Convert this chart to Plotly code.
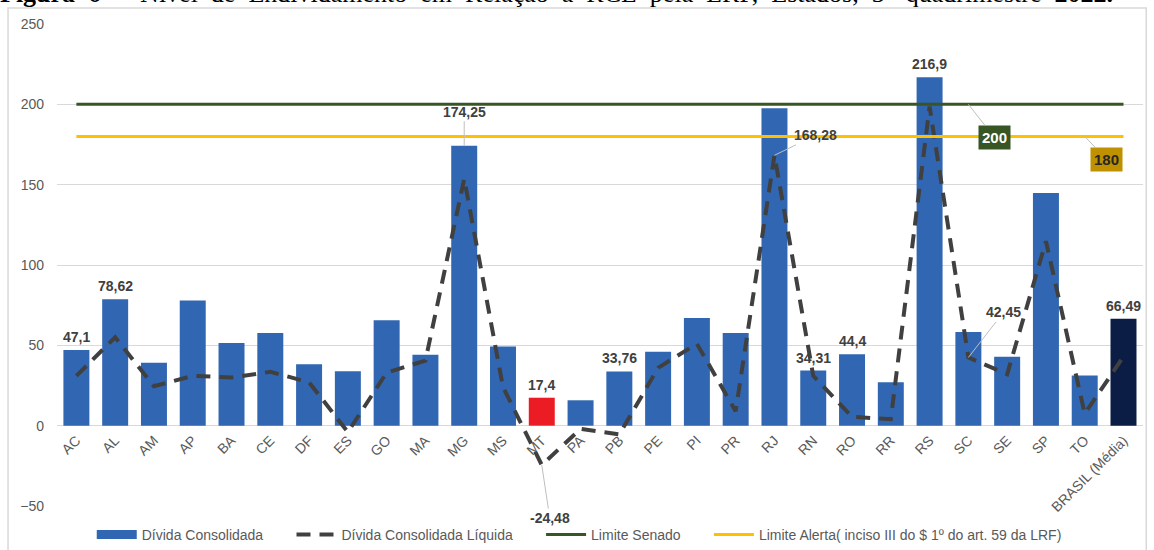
import plotly.graph_objects as go

# Nível de endividamento em relação à RCL, estados, 3º quadrimestre 2022
estados = ['AC', 'AL', 'AM', 'AP', 'BA', 'CE', 'DF', 'ES', 'GO', 'MA', 'MG', 'MS', 'MT', 'PA',
           'PB', 'PE', 'PI', 'PR', 'RJ', 'RN', 'RO', 'RR', 'RS', 'SC', 'SE', 'SP', 'TO',
           'BRASIL (Média)']
divida_consolidada = [47.1, 78.62, 39.2, 77.9, 51.5, 57.7, 38.3, 33.8, 65.6, 44.2, 174.25, 49.2,
                      17.4, 15.8, 33.76, 46.0, 67.0, 57.7, 197.5, 34.31, 44.4, 27.0, 216.9, 58.3,
                      42.9, 144.8, 31.2, 66.49]
divida_liquida = [31, 55, 24.5, 31, 30, 33.5, 27, -4, 33, 40.5, 153.6, 24, -24.48, -2, -5.5, 36,
                  51, 9, 168.28, 31, 5.5, 4, 198.6, 42.45, 32, 114.8, 7.5, 43]
limite_senado = [200] * len(estados)
limite_alerta = [180] * len(estados)

# rotulos exibidos no grafico
rotulos_barras = ['AC', 'AL', 'MT', 'PB', 'RN', 'RO', 'RS', 'BRASIL (Média)']

AZUL = '#3167B2'
CINZA_TXT = '#595959'
FONTE = 'Liberation Sans, Arial, sans-serif'
NB = '\u00a0'


def fmt(v):
    return f'{v:g}'.replace('.', ',')


cores = []
for e in estados:
    if e == 'MT':
        cores.append('#EC1C24')
    elif e.startswith('BRASIL'):
        cores.append('#0B1C45')
    else:
        cores.append(AZUL)

fig = go.Figure()

fig.add_trace(go.Bar(
    x=estados, y=divida_consolidada, name='Dívida Consolidada',
    marker=dict(color=cores, line=dict(width=0)), showlegend=False
))
# entrada de legenda no formato da barra larga
fig.add_trace(go.Scatter(
    x=[None], y=[None], mode='lines', name='Dívida Consolidada' + NB * 6,
    line=dict(color=AZUL, width=9), legendrank=1
))
fig.add_trace(go.Scatter(
    x=estados, y=divida_liquida, mode='lines', name='Dívida Consolidada Líquida' + NB * 6,
    line=dict(color='#404040', width=4, dash='14px,9px'), legendrank=2
))
fig.add_trace(go.Scatter(
    x=estados, y=limite_senado, mode='lines', name='Limite Senado' + NB * 6,
    line=dict(color='#375623', width=3), legendrank=3
))
fig.add_trace(go.Scatter(
    x=estados, y=limite_alerta, mode='lines',
    name='Limite Alerta( inciso III do $ 1º do art. 59 da LRF)',
    line=dict(color='#FFC000', width=3), legendrank=4
))

rotulo_font = dict(family=FONTE, size=14, color='#404040')
anots = []
for e in rotulos_barras:
    v = divida_consolidada[estados.index(e)]
    anots.append(dict(x=e, y=v, text=f'<b>{fmt(v)}</b>', showarrow=False,
                      yanchor='bottom', yshift=3, font=rotulo_font))

guia = dict(showarrow=True, arrowhead=0, arrowwidth=1, arrowcolor='#BFBFBF', standoff=0)
i_mg = estados.index('MG')
anots.append(dict(x='MG', y=divida_consolidada[i_mg], text=f'<b>{fmt(divida_consolidada[i_mg])}</b>',
                  ax=0, ay=-34, font=rotulo_font, **guia))
for e, ax, ay in [('MT', 8, 53), ('RJ', 41, -20), ('SC', 35, -45)]:
    v = divida_liquida[estados.index(e)]
    anots.append(dict(x=e, y=v, text=f'<b>{fmt(v)}</b>', ax=ax, ay=ay,
                      font=rotulo_font, **guia))
anots.append(dict(x='SC', y=limite_senado[0], text='<b>200</b>', ax=26, ay=33,
                  bgcolor='#375623', borderpad=3,
                  font=dict(family=FONTE, size=15, color='white'), **guia))
anots.append(dict(x='TO', y=limite_alerta[0], text='<b>180</b>', ax=22, ay=23,
                  bgcolor='#BF9000', borderpad=3,
                  font=dict(family=FONTE, size=15, color='#262626'), **guia))

# titulo da figura (texto justificado, cortado no topo como no original)
titulo = ('<b>Figura 6</b> – Nível de Endividamento em Relação à RCL pela LRF, Estados, '
          '3º quadrimestre <b>2022.</b>').replace(' ', NB * 2)
anots.append(dict(
    xref='paper', yref='paper', x=0, y=1, xanchor='left', yanchor='bottom',
    xshift=-59, yshift=14, showarrow=False, text=titulo,
    font=dict(family='Liberation Serif, Times New Roman, serif', size=26, color='black')
))

fig.update_layout(
    width=1154, height=550,
    template='none',
    paper_bgcolor='white', plot_bgcolor='white',
    margin=dict(l=57, r=11, t=24, b=44, autoexpand=False),
    bargap=0.33,
    font=dict(family=FONTE, color=CINZA_TXT),
    xaxis=dict(
        anchor='free', position=50 / 300, tickangle=-45, showgrid=False,
        showline=False, ticks='', automargin=False, ticklabelstandoff=3,
        tickfont=dict(family=FONTE, size=14, color=CINZA_TXT)
    ),
    yaxis=dict(
        range=[-50, 250], dtick=50, showgrid=True, gridcolor='#D9D9D9', gridwidth=1,
        zeroline=False, showline=False, ticks='', automargin=False, ticklabelstandoff=12,
        tickfont=dict(family=FONTE, size=14, color=CINZA_TXT)
    ),
    legend=dict(
        orientation='h', x=0.032, y=-0.06, xanchor='left', yanchor='middle',
        font=dict(family=FONTE, size=14, color=CINZA_TXT), bgcolor='rgba(0,0,0,0)',
        traceorder='normal', itemwidth=40
    ),
    annotations=anots,
    shapes=[dict(type='rect', xref='paper', yref='paper', x0=-0.0451, x1=1.003,
                 y0=-0.1, y1=1.033, line=dict(color='#D9D9D9', width=1.5), layer='below')]
)

fig.write_html('out.html', config={'displayModeBar': False},
               post_script="document.body.style.margin='0';")
